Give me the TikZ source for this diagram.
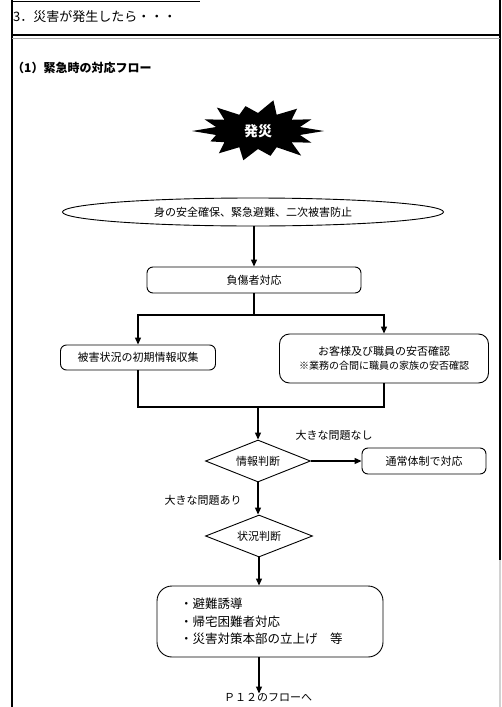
\documentclass[tikz,border=0pt]{standalone}
\usepackage{fontspec}
\setmainfont{Noto Sans CJK JP}
\usetikzlibrary{shapes.geometric,arrows.meta}
\begin{document}
\begin{tikzpicture}[x=1pt,y=-1pt,
  conn/.style={line width=1.2pt},
  arr/.style={conn,-{Triangle[length=7pt,width=6pt]}},
  box/.style={draw,line width=0.9pt,rounded corners=6pt,align=center,inner sep=0pt,
    font=\fontsize{11}{13}\selectfont},
  dia/.style={draw,diamond,line width=0.9pt,inner sep=0pt,aspect=2.5,
    font=\fontsize{11}{13}\selectfont},
  lbl/.style={font=\fontsize{11}{13}\selectfont,inner sep=0pt}]
\useasboundingbox (0,0) rectangle (502,707);
% page frame
\draw[line width=2.5pt] (12,0) -- (12,707);
\draw[line width=1.4pt] (500,0) -- (500,560);
\draw[line width=1.2pt,gray!35] (500,560) -- (500,707);
\draw[line width=1pt] (12,1) -- (200,1);
\draw[line width=1.6pt] (12,35) -- (500,35);
\draw[line width=0.8pt,gray!70] (12,38.5) -- (500,38.5);
% headings
\node[anchor=west,inner sep=0pt,font=\fontsize{13}{15}\selectfont] (ttl) at (13,17) {3．災害が発生したら・・・};
\node[anchor=west,inner sep=0pt,font=\fontsize{12}{14}\selectfont\bfseries] (sub) at (12,68) {（1）緊急時の対応フロー};
% starburst
\fill[black] (324,131) \foreach \f [count=\i] in {0.9,1.05,0.85,1,0.95,0.8,1,0.9,1,0.85,1.05,0.95,0.9,1}
  { -- ({258+43*cos((\i-0.5)*360/14)},{131+18*sin((\i-0.5)*360/14)})
    -- ({258+66*\f*cos(\i*360/14)},{131+30*\f*sin(\i*360/14)}) } -- cycle;
\node[text=white,inner sep=0pt,font=\fontsize{14}{16}\selectfont\bfseries] (start) at (258,131) {発災};
% nodes
\node[ellipse,draw,line width=0.9pt,minimum width=381pt,minimum height=28pt,inner sep=0pt,
  font=\fontsize{11}{13}\selectfont] (ell) at (253,212) {身の安全確保、緊急避難、二次被害防止};
\node[box,minimum width=214pt,minimum height=26pt] (inj) at (254,280) {負傷者対応};
\node[box,minimum width=155pt,minimum height=25pt] (leftb) at (138,357.5) {被害状況の初期情報収集};
\node[box,rounded corners=10pt,minimum width=209pt,minimum height=49pt] (rightb) at (384,358.5)
  {お客様及び職員の安否確認\\[1pt]{\fontsize{10}{12}\selectfont ※業務の合間に職員の家族の安否確認}};
\node[dia,minimum width=105pt,minimum height=42pt] (d1) at (258,461) {情報判断};
\node[box,minimum width=124pt,minimum height=26pt] (norm) at (424,461) {通常体制で対応};
\node[dia,minimum width=107pt,minimum height=42pt] (d2) at (259,536) {状況判断};
\node[box,rounded corners=15pt,minimum width=226pt,minimum height=71pt,align=left,
  font=\fontsize{12.5}{17.5}\selectfont] (big) at (270,621.5)
  {\makebox[180pt][l]{・避難誘導}\\・帰宅困難者対応\\・災害対策本部の立上げ　等};
\node[lbl] (p12) at (268,698) {Ｐ１２のフローへ};
\node[lbl] (nolbl) at (334,435) {大きな問題なし};
\node[lbl] (yeslbl) at (203,500) {大きな問題あり};
% connectors
\draw[arr] (ell.south -| inj) -- (inj.north);
\coordinate (split) at (254,315);
\coordinate (join) at (258,407);
\draw[conn] (inj.south) -- (split);
\draw[arr] (split) -| (leftb.north);
\draw[arr] (split) -| (rightb.north);
\draw[conn] (leftb.south) |- (join) -| (rightb.south);
\draw[arr] (join) -- (d1.north);
\draw[arr] (d1.east) -- (norm.west);
\draw[arr] (d1.south) -- (d2.north -| d1.south);
\draw[arr] (d2.south) -- (d2.south |- big.north);
\draw[arr] (d2.south |- big.south) -- (d2.south |- p12.north);
\end{tikzpicture}
\end{document}
